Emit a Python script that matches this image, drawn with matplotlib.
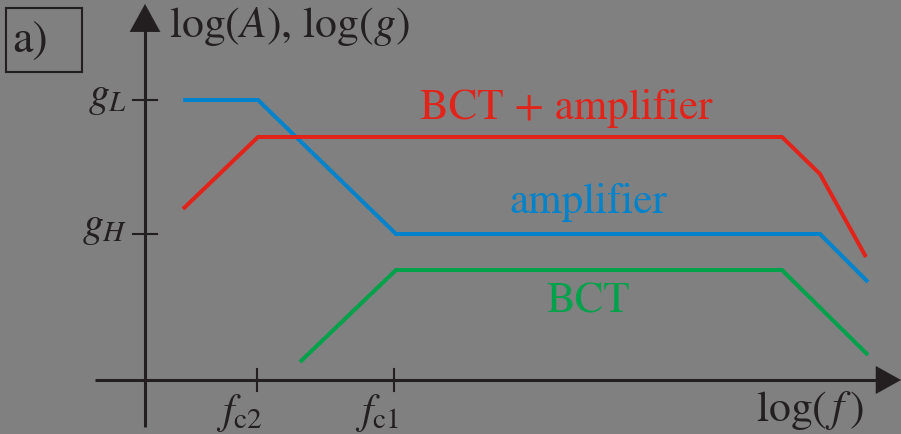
import matplotlib
matplotlib.use('Agg')
import matplotlib.pyplot as plt
from matplotlib.patches import Rectangle

plt.rcParams['mathtext.fontset'] = 'stix'
plt.rcParams['font.family'] = 'STIXGeneral'

# curve break points (x: log f, y: log gain), picture units
amp_x = [183, 258, 396, 820, 868]
amp_y = [334, 334, 200, 200, 152]
total_x = [183, 258, 782, 820, 866]
total_y = [225, 297, 297, 260, 177]
bct_x = [300, 396, 782, 868]
bct_y = [72, 164, 164, 79]

# axis ticks
x_ticks = [257, 394]
x_tick_labels = [r'$f_{\rm c2}$', r'$f_{\rm c1}$']
y_ticks = [334, 200]
y_tick_labels = [r'$g_L$', r'$g_H$']

RED = '#e2231a'
BLUE = '#0083ca'
GREEN = '#00a14b'
INK = '#231f20'
BG = '#808080'

fig = plt.figure(figsize=(9.01, 4.35), dpi=100, facecolor=BG)
ax = fig.add_axes([0, 0, 1, 1])
ax.set_xlim(0, 901)
ax.set_ylim(0, 435)
ax.axis('off')
ax.set_facecolor(BG)

x0, y0 = 145, 54  # origin of the drawn axes

# axes with arrows
ax.plot([x0, x0], [7, 412], color=INK, lw=2.2, solid_capstyle='butt')
ax.plot([95, 888], [y0, y0], color=INK, lw=2.2, solid_capstyle='butt')
ax.annotate('', xy=(x0, 430), xytext=(x0, 405),
            arrowprops=dict(arrowstyle='-|>,head_length=1.0,head_width=0.55',
                            mutation_scale=20, color=INK, lw=0.1,
                            shrinkA=0, shrinkB=0))
ax.annotate('', xy=(901, y0), xytext=(875, y0),
            arrowprops=dict(arrowstyle='-|>,head_length=0.9,head_width=0.5',
                            mutation_scale=20, color=INK, lw=0.1,
                            shrinkA=0, shrinkB=0))

# ticks
for xt, lab in zip(x_ticks, x_tick_labels):
    ax.plot([xt, xt], [y0 - 11, y0 + 11], color=INK, lw=1.5)
    ax.text(xt + 5, 43, lab, ha='right', va='top', fontsize=30, color=INK)
label_dy = [3, 7]
for yt, lab, dy in zip(y_ticks, y_tick_labels, label_dy):
    ax.plot([x0 - 12, x0 + 12], [yt, yt], color=INK, lw=1.5)
    ax.text(127, yt + dy, lab, ha='right', va='center', fontsize=30, color=INK)

# curves
line_kw = dict(lw=2.9, solid_capstyle='butt', solid_joinstyle='miter')
ax.plot(amp_x, amp_y, color=BLUE, **line_kw)
ax.plot(total_x, total_y, color=RED, **line_kw)
ax.plot(bct_x, bct_y, color=GREEN, **line_kw)

# curve labels
ax.text(566, 316, 'BCT + amplifier', ha='center', va='baseline',
        fontsize=31, color=RED)
ax.text(588, 222, 'amplifier', ha='center', va='baseline',
        fontsize=31, color=BLUE)
ax.text(588, 122, 'BCT', ha='center', va='baseline',
        fontsize=31, color=GREEN)

# axis titles
ax.text(169, 398, r'log$(A)$, log$(g)$', ha='left', va='baseline',
        fontsize=31.5, color=INK)
ax.text(810, 14, r'log$(\,f\,)$', ha='center', va='baseline',
        fontsize=31.5, color=INK)

# panel tag
ax.add_patch(Rectangle((6, 362), 76, 64, fill=False, ec=INK, lw=1.5))
ax.text(12, 394, 'a)', ha='left', va='center', fontsize=33, color=INK)

fig.savefig('out.png', dpi=100, facecolor=BG)
